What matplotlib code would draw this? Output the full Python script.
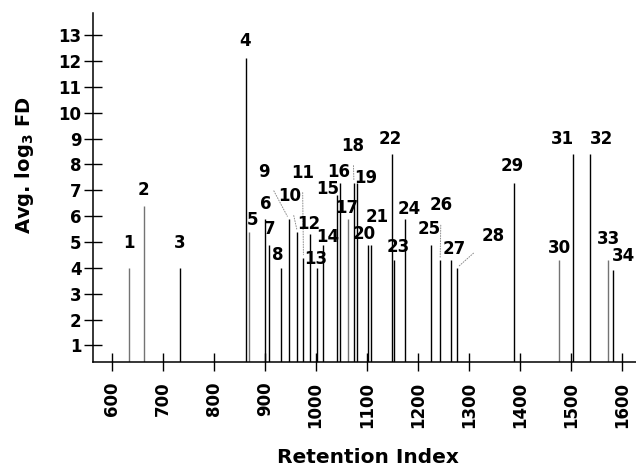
import matplotlib.pyplot as plt

plt.rcParams['font.family'] = ['DejaVu Sans']
plt.rcParams['font.weight'] = 'bold'

# peaks: retention index and average log3 FD
retention_index = [634, 663, 733, 863, 870, 900, 908, 932, 947, 964,
                   976, 988, 1002, 1014, 1041, 1048, 1063, 1075, 1081, 1102,
                   1108, 1150, 1154, 1176, 1226, 1244, 1266, 1277, 1389, 1477,
                   1504, 1538, 1573, 1583]
avg_log3_fd = [4.0, 6.4, 4.0, 12.1, 5.4, 5.9, 4.9, 4.0, 5.9, 5.4,
               4.4, 5.3, 4.0, 4.9, 6.8, 7.3, 5.9, 7.3, 7.3, 4.9,
               4.9, 8.4, 4.3, 5.9, 4.9, 4.3, 4.3, 4.0, 7.3, 4.3,
               8.4, 8.4, 4.3, 3.9]
peak_labels = [str(i) for i in range(1, 35)]
x_ticks = list(range(600, 1700, 100))
y_ticks = list(range(1, 14))

# where each number sits relative to its peak top (pixels)
label_offset = {
    1: (0, 25), 2: (0, 16), 3: (0, 25), 4: (-1, 17), 5: (3, 12),
    6: (1, 15), 7: (1, 16), 8: (-3, 13), 9: (-25, 47), 10: (-8, 36),
    11: (-1, 85), 12: (-1, 10), 13: (-1, 9), 14: (5, 8), 15: (-9, 6),
    16: (-1, 11), 17: (-1, 11), 18: (-1, 37), 19: (9, 5), 20: (-4, 11),
    21: (6, 28), 22: (-2, 15), 23: (4, 13), 24: (4, 10), 25: (-2, 16),
    26: (1, 55), 27: (3, 11), 28: (36, 32), 29: (-2, 17), 30: (0, 12),
    31: (-10, 15), 32: (11, 15), 33: (1, 21), 34: (10, 14),
}
leader_lines = [9, 10, 11, 18, 26, 28]
gray_peaks = [1, 2, 5, 17, 30, 33]


def plot():
    fig = plt.figure(figsize=(6.36, 4.68), dpi=100)
    ax = fig.add_axes([0.1467, 0.2271, 0.8533, 0.7458])

    colors = ['0.45' if int(p) in gray_peaks else 'black' for p in peak_labels]
    ax.vlines(retention_index, 0, avg_log3_fd, colors=colors, lw=1.0)

    for x, y, lab in zip(retention_index, avg_log3_fd, peak_labels):
        n = int(lab)
        dx, dy = label_offset[n]
        arrow = None
        if n in leader_lines:
            arrow = dict(arrowstyle='-', color='0.55', lw=0.7, linestyle=':',
                         shrinkA=6, shrinkB=2)
        ax.annotate(lab, xy=(x, y), xytext=(dx, dy), textcoords='offset pixels',
                    ha='center', va='center', fontsize=12, fontweight='bold',
                    arrowprops=arrow)

    ax.set_xlim(564, 1628)
    ax.set_ylim(0.37, 13.87)
    ax.set_xticks(x_ticks)
    ax.set_yticks(y_ticks)
    ax.tick_params(axis='x', direction='inout', length=13, width=1.0,
                   labelsize=12, pad=8, labelrotation=90)
    ax.tick_params(axis='y', direction='inout', length=13, width=1.0,
                   labelsize=12, pad=2)
    for lbl in ax.get_xticklabels() + ax.get_yticklabels():
        lbl.set_fontweight('bold')

    for side in ['top', 'right']:
        ax.spines[side].set_visible(False)
    for side in ['left', 'bottom']:
        ax.spines[side].set_linewidth(1.1)

    fig.text(0.039, 0.647, 'Avg. log$_\\mathbf{3}$ FD', rotation=90,
             ha='center', va='center', fontsize=14, fontweight='bold')
    fig.text(0.578, 0.002, 'Retention Index', ha='center', va='bottom',
             fontsize=14.5, fontweight='bold')

    fig.savefig('out.png', dpi=100)


if __name__ == '__main__':
    plot()
